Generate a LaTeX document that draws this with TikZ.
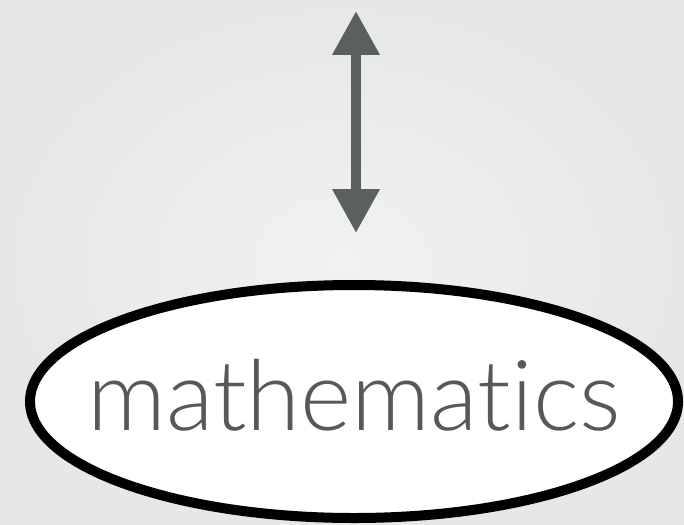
\documentclass[tikz,border=0pt]{standalone}
\usepackage{fontspec}
\newfontfamily\gillfont{Lato Light}[Ligatures=CommonOff]
\definecolor{arrgray}{RGB}{91, 95, 95}
\definecolor{txtgray}{RGB}{88, 88, 88}
\definecolor{bgin}{RGB}{240, 241, 242}
\definecolor{bgout}{RGB}{229, 231, 233}
\usetikzlibrary{shapes.geometric, arrows.meta}

\begin{document}
\begin{tikzpicture}[x=1pt, y=-1pt,
  bignode/.style={ellipse, draw=black, fill=white, line width=10pt, minimum width=648pt, minimum height=233pt, inner sep=0pt, text depth=14pt, font=\gillfont\fontsize{98}{98}\selectfont, text=txtgray},
  arr/.style={{Triangle[length=44pt, width=45pt]}-{Triangle[length=44pt, width=45pt]}, line width=10pt, arrgray}
]
  \fill[inner color=bgin, outer color=bgout] (0,0) rectangle (684,524);
  \useasboundingbox (0,0) rectangle (684,524);

  \node[bignode] (math) at (354, 401.5) {\makebox[0pt]{mathematics}};
  \coordinate (top) at (356, 11);
  \coordinate (bot) at (356, 233);

  \draw[arr] (top) -- (bot);
\end{tikzpicture}
\end{document}
